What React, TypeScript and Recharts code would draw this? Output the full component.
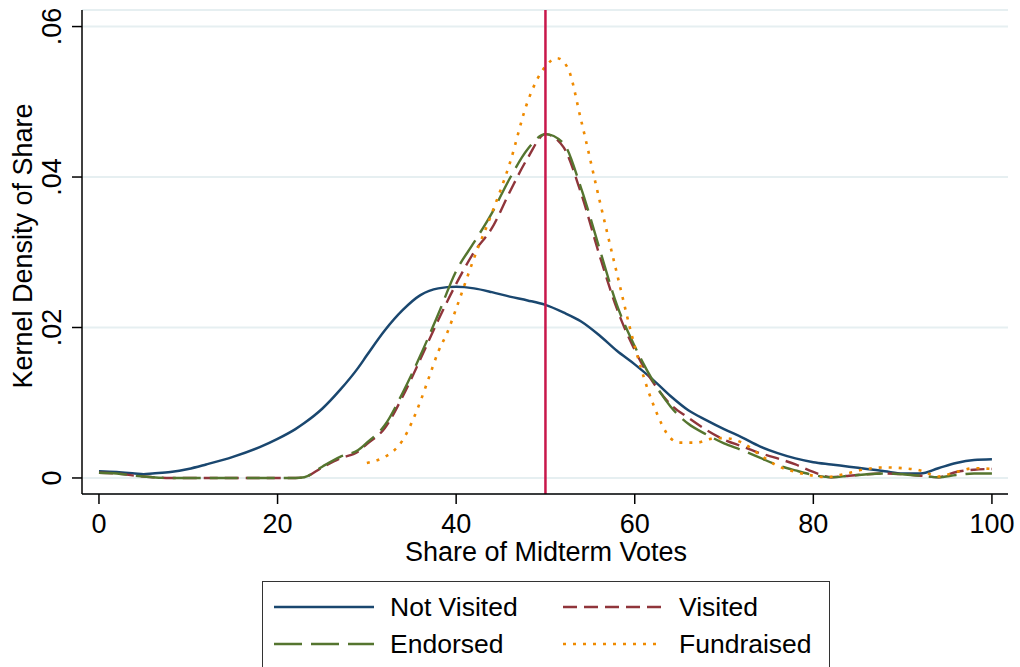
import React from 'react';
import { LineChart, Line, XAxis, YAxis, CartesianGrid, ReferenceLine } from 'recharts';

// Share of midterm votes (x grid shared by the first three densities)
const shares = [
  0, 2, 4, 5, 6, 8, 10, 12, 15, 18,
  20, 22, 23, 25, 27, 29, 30, 32, 34, 36,
  38, 40, 42, 44, 46, 48, 50, 52, 54, 56,
  58, 60, 62, 64, 66, 68, 70, 72, 74, 76,
  78, 80, 82, 84, 86, 88, 90, 92, 94, 96,
  98, 100,
];

const notVisited = [
  0.0009, 0.0008, 0.0006, 0.0005, 0.0006, 0.0008, 0.0012, 0.0018, 0.0028, 0.0041,
  0.0052, 0.0065, 0.0073, 0.0092, 0.0117, 0.0146, 0.0163, 0.0196, 0.0223, 0.0243,
  0.0252, 0.0254, 0.0252, 0.0247, 0.0241, 0.0236, 0.023, 0.022, 0.0208, 0.019,
  0.0169, 0.0151, 0.0131, 0.0109, 0.009, 0.0077, 0.0065, 0.0054, 0.0042, 0.0033,
  0.0026, 0.0021, 0.0018, 0.0015, 0.0012, 0.0009, 0.0006, 0.0006, 0.0013, 0.002,
  0.0024, 0.0025,
];

const visited = [
  0.0007, 0.0006, 0.0003, 0.0002, 0.0001, 0, 0, 0, 0, 0,
  0, 0, 0.0001, 0.0014, 0.0026, 0.0035, 0.0045, 0.0066, 0.0108, 0.0158,
  0.021, 0.0258, 0.03, 0.0332, 0.038, 0.0425, 0.0457, 0.044, 0.0378, 0.0298,
  0.0225, 0.017, 0.0128, 0.0098, 0.008, 0.0064, 0.0051, 0.0042, 0.0033, 0.0026,
  0.0018, 0.0008, 0.0001, 0.0003, 0.0005, 0.0006, 0.0005, 0.0003, 0.0001, 0.0008,
  0.0011, 0.0012,
];

const endorsed = [
  0.0007, 0.0006, 0.0003, 0.0002, 0.0001, 0, 0, 0, 0, 0,
  0, 0, 0.0001, 0.0015, 0.0028, 0.0037, 0.0047, 0.007, 0.0113, 0.0163,
  0.0218, 0.0275, 0.0313, 0.0352, 0.0398, 0.0437, 0.0457, 0.0445, 0.0385, 0.0307,
  0.023, 0.0175, 0.013, 0.0095, 0.0072, 0.0058, 0.0046, 0.0037, 0.0027, 0.0017,
  0.001, 0.0004, 0.0001, 0.0003, 0.0005, 0.0006, 0.0005, 0.0003, 0.0001, 0.0004,
  0.0006, 0.0006,
];

// Fundraised density is only estimated from 30 upward
const fundraisedShares = [
  30, 32, 33, 34, 35, 36, 37, 38, 39, 40,
  42, 44, 46, 48, 50, 51.3, 52.5, 54, 56, 58,
  60, 62, 64, 65, 67, 68.5, 70, 72, 74, 76,
  78, 80, 81.5, 83, 86, 88, 90, 92, 94, 96,
  98, 100,
];

const fundraised = [
  0.002, 0.0028, 0.0036, 0.005, 0.0073, 0.0102, 0.0135, 0.0168, 0.0193, 0.0225,
  0.0292, 0.0352, 0.0418, 0.05, 0.0547, 0.0558, 0.0545, 0.0475, 0.0372, 0.0272,
  0.0175, 0.01, 0.0053, 0.0047, 0.0047, 0.0052, 0.0053, 0.0047, 0.0031, 0.0016,
  0.0008, 0.0003, 0.0001, 0.0004, 0.0012, 0.0014, 0.0013, 0.001, 0.0002, 0.0008,
  0.0013, 0.0012,
];

const xTicks = [0, 20, 40, 60, 80, 100];
const yTicks = [0, 0.02, 0.04, 0.06];
const midpoint = 50;

const toPoints = (xs: number[], ys: number[]) => xs.map((x, i) => ({ x, y: ys[i] }));

const series = [
  { name: 'Not Visited', data: toPoints(shares, notVisited), color: '#1a476f', dash: undefined, width: 2.5 },
  { name: 'Visited', data: toPoints(shares, visited), color: '#90353b', dash: '14 7', width: 2.4 },
  { name: 'Endorsed', data: toPoints(shares, endorsed), color: '#55752f', dash: '28 9', width: 2.4 },
  { name: 'Fundraised', data: toPoints(fundraisedShares, fundraised), color: '#ef8a00', dash: '3 7', width: 2.6 },
];

const FONT = '"Liberation Sans", Arial, Helvetica, sans-serif';
const FS = 27;

const fmtY = (v: number) => (v === 0 ? '0' : v.toFixed(2).replace(/^0/, ''));

const XTick = ({ x, y, payload }: any) => (
  <text x={x} y={y + 27} textAnchor="middle" fontSize={FS} fontFamily={FONT} fill="#000">
    {payload.value}
  </text>
);

const YTick = ({ x, y, payload }: any) => (
  <text
    x={x - 9}
    y={y}
    transform={`rotate(-90, ${x - 9}, ${y})`}
    textAnchor="middle"
    fontSize={FS}
    fontFamily={FONT}
    fill="#000"
  >
    {fmtY(payload.value)}
  </text>
);

const XTitle = ({ viewBox }: any) => (
  <text
    x={viewBox.x + viewBox.width / 2 + 1}
    y={561}
    textAnchor="middle"
    fontSize={FS}
    fontFamily={FONT}
    fill="#000"
  >
    Share of Midterm Votes
  </text>
);

const YTitle = ({ viewBox }: any) => {
  const cy = viewBox.y + viewBox.height / 2 - 6;
  return (
    <text x={32} y={cy} transform={`rotate(-90, 32, ${cy})`} textAnchor="middle" fontSize={FS} fontFamily={FONT} fill="#000">
      Kernel Density of Share
    </text>
  );
};

const LegendBox = () => (
  <div
    style={{
      position: 'absolute',
      left: 262,
      top: 581,
      width: 566,
      height: 100,
      border: '1.5px solid #333',
      background: '#fff',
      fontFamily: FONT,
      fontSize: 26.5,
    }}
  >
    {series.map((s, i) => {
      const col = i % 2;
      const row = Math.floor(i / 2);
      const top = row === 0 ? 25 : 62;
      const lineLeft = col === 0 ? 10 : 299;
      return (
        <React.Fragment key={s.name}>
          <svg style={{ position: 'absolute', left: lineLeft, top: top - 5 }} width={102} height={10}>
            <line x1={1} y1={5} x2={101} y2={5} stroke={s.color} strokeWidth={s.width} strokeDasharray={s.dash} />
          </svg>
          <span style={{ position: 'absolute', left: lineLeft + 117, top: top - 15, lineHeight: '30px', color: '#000' }}>
            {s.name}
          </span>
        </React.Fragment>
      );
    })}
  </div>
);

export default function App() {
  return (
    <div style={{ position: 'absolute', left: 0, top: 0, width: 1020, height: 667, background: '#fff', overflow: 'hidden' }}>
      <LineChart width={1020} height={667} margin={{ top: 10, right: 12, left: 22, bottom: 143 }}>
        <CartesianGrid vertical={false} stroke="#e6eff1" strokeWidth={2} />
        <XAxis
          dataKey="x"
          type="number"
          domain={[-1.9, 101.8]}
          ticks={xTicks}
          allowDataOverflow
          height={30}
          tickSize={10}
          tick={<XTick />}
          axisLine={{ stroke: '#000', strokeWidth: 1.5 }}
          tickLine={{ stroke: '#000', strokeWidth: 1.5 }}
          label={<XTitle />}
        />
        <YAxis
          type="number"
          domain={[-0.00213, 0.0622]}
          ticks={yTicks}
          allowDataOverflow
          width={60}
          tickSize={10}
          tick={<YTick />}
          axisLine={{ stroke: '#000', strokeWidth: 1.5 }}
          tickLine={{ stroke: '#000', strokeWidth: 1.5 }}
          label={<YTitle />}
        />
        {series.map((s) => (
          <Line
            key={s.name}
            data={s.data}
            dataKey="y"
            name={s.name}
            type="monotone"
            stroke={s.color}
            strokeWidth={s.width}
            strokeDasharray={s.dash}
            dot={false}
            activeDot={false}
            isAnimationActive={false}
          />
        ))}
        <ReferenceLine x={midpoint} stroke="#c8174a" strokeWidth={2.5} />
      </LineChart>
      <LegendBox />
    </div>
  );
}
